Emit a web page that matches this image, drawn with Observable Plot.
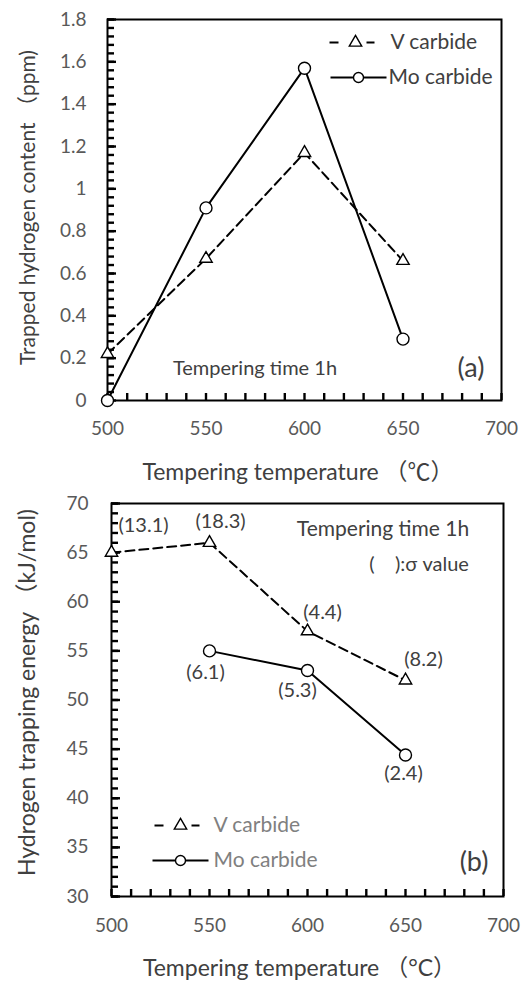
<!DOCTYPE html>
<html><head><meta charset="utf-8">
<script src="https://cdn.jsdelivr.net/npm/d3@7"></script>
<script src="https://cdn.jsdelivr.net/npm/@observablehq/plot@0.6"></script>
<style>
body{margin:0;background:#fff;}
#chart{width:524px;}
#chart svg{display:block;overflow:visible;}
</style></head><body><div id="chart"></div>
<script>
// ---------- data ----------
const temps = [500, 550, 600, 650];
const vContent = [0.22, 0.67, 1.17, 0.66];
const moContent = [0, 0.91, 1.57, 0.29];
const vEnergy = [65, 66, 57, 52];
const vSigma = ["(13.1)", "(18.3)", "(4.4)", "(8.2)"];
const moTemps = [550, 600, 650];
const moEnergy = [55, 53, 44.4];
const moSigma = ["(6.1)", "(5.3)", "(2.4)"];
const seriesNames = ["V carbide", "Mo carbide"];
const xTicks = [500, 550, 600, 650, 700];
const yTicksA = [0, 0.2, 0.4, 0.6, 0.8, 1, 1.2, 1.4, 1.6, 1.8];
const yTicksB = [30, 35, 40, 45, 50, 55, 60, 65, 70];

// ---------- layout / style ----------
const FONT = "Lato, 'Noto Sans CJK SC', sans-serif";
const TXT = "#404040";
const TICKC = "#595959";
const vSigmaNudge = [[32, -27], [11, -21], [15, -19], [18, -21]];
const moSigmaNudge = [[-4, 22], [-10, 20], [-2, 19]];

const segSymbol = (segs) => ({draw(ctx) { for (const [a, b] of segs) { ctx.moveTo(a, 0); ctx.lineTo(b, 0); } }});

// inward ticks drawn with tick marks inset from the far side of the frame
function axes(plotW, plotH, yMajor, yMinor, yLabelPad, xLabelPad) {
  return [
    Plot.tickX(d3.range(500, 701, 10), {x: d => d, insetTop: plotH - 7, stroke: "black", strokeWidth: 2.4}),
    Plot.tickY(yMinor, {y: d => d, insetRight: plotW - 7, stroke: "black", strokeWidth: 2.4}),
    Plot.tickY(yMajor, {y: d => d, insetRight: plotW - 9, stroke: "black", strokeWidth: 2.4}),
    Plot.axisX({ticks: xTicks, tickSize: 0, tickPadding: xLabelPad, label: null, color: TICKC, fontSize: 19, tickFormat: d => String(d)}),
    Plot.axisY({ticks: yMajor, tickSize: 0, tickPadding: yLabelPad, label: null, color: TICKC, fontSize: 19, tickFormat: d => String(d)})
  ];
}

function label(text, dx, dy, opts = {}) {
  return Plot.text([text], {frameAnchor: "top-left", text: d => d, dx, dy, fill: TXT, fontSize: 18, textAnchor: "middle", lineAnchor: "middle", ...opts});
}

function legend(fx, dy, textDx, name, isV, color) {
  const marks = [];
  if (isV) {
    marks.push(Plot.dot([0], {frameAnchor: "top-left", dx: fx, dy, symbol: segSymbol([[-26, -17], [11, 19]]), fill: "none", stroke: "black", strokeWidth: 2}));
    marks.push(Plot.dot([0], {frameAnchor: "top-left", dx: fx, dy, symbol: "triangle", r: 4.6, fill: "white", stroke: "black", strokeWidth: 1.4}));
  } else {
    marks.push(Plot.dot([0], {frameAnchor: "top-left", dx: fx, dy, symbol: segSymbol([[-28, 28]]), fill: "none", stroke: "black", strokeWidth: 2}));
    marks.push(Plot.dot([0], {frameAnchor: "top-left", dx: fx, dy, symbol: "circle", r: 5, fill: "white", stroke: "black", strokeWidth: 1.4}));
  }
  marks.push(Plot.text([name], {frameAnchor: "top-left", text: d => d, dx: textDx, dy, textAnchor: "start", lineAnchor: "middle", fill: color, fontSize: 21}));
  return marks;
}

// ---------- panel (a) ----------
const dataA_V = temps.map((t, i) => ({t, y: vContent[i]}));
const dataA_Mo = temps.map((t, i) => ({t, y: moContent[i]}));

const plotA = Plot.plot({
  width: 524, height: 490,
  marginLeft: 107, marginRight: 23, marginTop: 19, marginBottom: 90,
  style: {fontFamily: FONT, background: "white", overflow: "visible"},
  x: {domain: [500, 700]},
  y: {domain: [0, 1.8]},
  marks: [
    Plot.frame({stroke: "black", strokeWidth: 2}),
    ...axes(394, 381, yTicksA, d3.range(0, 1.8001, 0.04), 21, 21),
    Plot.line(dataA_V, {x: "t", y: "y", stroke: "black", strokeWidth: 2, strokeDasharray: "9,5"}),
    Plot.line(dataA_Mo, {x: "t", y: "y", stroke: "black", strokeWidth: 2}),
    Plot.dot(dataA_V, {x: "t", y: "y", symbol: "triangle", r: 4.6, fill: "white", stroke: "black", strokeWidth: 1.4}),
    Plot.dot(dataA_Mo, {x: "t", y: "y", symbol: "circle", r: 6, fill: "white", stroke: "black", strokeWidth: 1.4}),
    ...legend(248, 23, 283, seriesNames[0], true, TXT),
    ...legend(251, 58, 281, seriesNames[1], false, TXT),
    label("Tempering time 1h", 147.5, 349, {fontSize: 20}),
    label("(a)", 363.5, 349, {fontSize: 27}),
    label("Tempering temperature （℃）", 190.5, 453, {fontSize: 23}),
    label("Trapped hydrogen content （ppm)", -79, 188, {fontSize: 21, rotate: -90})
  ]
});

// ---------- panel (b) ----------
const dataB_V = temps.map((t, i) => ({t, y: vEnergy[i], s: vSigma[i], n: vSigmaNudge[i]}));
const dataB_Mo = moTemps.map((t, i) => ({t, y: moEnergy[i], s: moSigma[i], n: moSigmaNudge[i]}));

const plotB = Plot.plot({
  width: 524, height: 493,
  marginLeft: 111, marginRight: 21, marginTop: 13, marginBottom: 87,
  style: {fontFamily: FONT, background: "white", overflow: "visible"},
  x: {domain: [500, 700]},
  y: {domain: [30, 70]},
  marks: [
    Plot.frame({stroke: "black", strokeWidth: 2}),
    ...axes(392, 393, yTicksB, d3.range(30, 70.01, 1), 23, 22),
    Plot.line(dataB_V, {x: "t", y: "y", stroke: "black", strokeWidth: 2, strokeDasharray: "9,5"}),
    Plot.line(dataB_Mo, {x: "t", y: "y", stroke: "black", strokeWidth: 2}),
    Plot.dot(dataB_V, {x: "t", y: "y", symbol: "triangle", r: 4.6, fill: "white", stroke: "black", strokeWidth: 1.4}),
    Plot.dot(dataB_Mo, {x: "t", y: "y", symbol: "circle", r: 6, fill: "white", stroke: "black", strokeWidth: 1.4}),
    ...dataB_V.map(d => Plot.text([d], {x: "t", y: "y", text: "s", dx: d.n[0], dy: d.n[1], fill: TXT, fontSize: 20})),
    ...dataB_Mo.map(d => Plot.text([d], {x: "t", y: "y", text: "s", dx: d.n[0], dy: d.n[1], fill: TXT, fontSize: 20})),
    ...legend(69, 322, 102, seriesNames[0], true, "#808080"),
    ...legend(69, 357, 102, seriesNames[1], false, "#808080"),
    label("Tempering time 1h", 271.5, 26, {fontSize: 21}),
    label("(    ):σ value", 307.5, 61, {fontSize: 20}),
    label("(b)", 362.5, 359, {fontSize: 27}),
    label("Tempering temperature （°C）", 188, 465, {fontSize: 23}),
    label("Hydrogen trapping energy （kJ/mol)", -84, 189, {fontSize: 23, rotate: -90})
  ]
});

document.getElementById("chart").append(plotA, plotB);
</script></body></html>
